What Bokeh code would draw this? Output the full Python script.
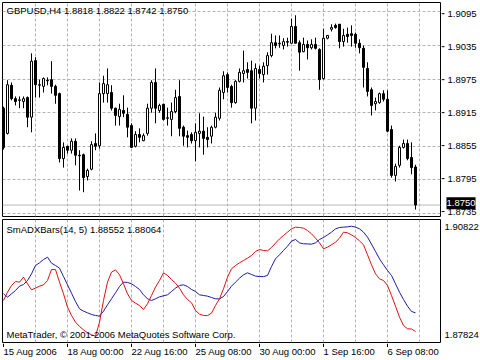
from bokeh.plotting import figure
from bokeh.models import Range1d, FixedTicker, Label, Span, ColumnDataSource
from bokeh.layouts import column, row
from bokeh.embed import file_html
from bokeh.resources import INLINE
from bokeh.core.properties import value

# ---------------- data ----------------
chart_title = "GBPUSD,H4 1.8818 1.8822 1.8742 1.8750"
opens = [1.8923, 1.8878, 1.8964, 1.8940, 1.8937, 1.8935, 1.8942, 1.8907, 1.9008, 1.8964,
         1.8962, 1.8973, 1.8974, 1.8962, 1.8949, 1.8833, 1.8855, 1.8848, 1.8864, 1.8839,
         1.8840, 1.8801, 1.8814, 1.8860, 1.8856, 1.8949, 1.8949, 1.8951, 1.8923, 1.8908,
         1.8919, 1.8912, 1.8892, 1.8855, 1.8876, 1.8865, 1.8878, 1.8923, 1.8969, 1.8919,
         1.8930, 1.8905, 1.8903, 1.8917, 1.8944, 1.8889, 1.8874, 1.8876, 1.8865, 1.8878,
         1.8882, 1.8871, 1.8873, 1.8889, 1.8905, 1.8951, 1.8983, 1.8962, 1.8933, 1.8971,
         1.8985, 1.8992, 1.8990, 1.8923, 1.8992, 1.8983, 1.8999, 1.9017, 1.9040, 1.9039,
         1.9035, 1.9042, 1.9039, 1.9069, 1.9040, 1.9024, 1.9037, 1.9031, 1.9037, 1.9028,
         1.8976, 1.9048, 1.9064, 1.9071, 1.9073, 1.9042, 1.9055, 1.9056, 1.9055, 1.9039,
         1.9030, 1.8994, 1.8956, 1.8931, 1.8933, 1.8949, 1.8939, 1.8885, 1.8803, 1.8821,
         1.8853, 1.8860, 1.8835, 1.8818]
highs = [1.8926, 1.8973, 1.8969, 1.8944, 1.8944, 1.8944, 1.8944, 1.9021, 1.9014, 1.8974,
         1.8978, 1.8978, 1.9007, 1.8965, 1.8951, 1.8862, 1.8856, 1.8869, 1.8869, 1.8848,
         1.8842, 1.8815, 1.8864, 1.8878, 1.8969, 1.8981, 1.8994, 1.8964, 1.8924, 1.8931,
         1.8946, 1.8924, 1.8896, 1.8882, 1.8887, 1.8878, 1.8931, 1.8973, 1.8994, 1.8931,
         1.8931, 1.8924, 1.8933, 1.8956, 1.8973, 1.8892, 1.8883, 1.8880, 1.8896, 1.8914,
         1.8908, 1.8889, 1.8892, 1.8915, 1.8960, 1.8989, 1.8987, 1.8965, 1.8973, 1.8994,
         1.9026, 1.9005, 1.9008, 1.9003, 1.8999, 1.9005, 1.9023, 1.9056, 1.9053, 1.9053,
         1.9048, 1.9049, 1.9083, 1.9089, 1.9044, 1.9049, 1.9044, 1.9046, 1.9049, 1.9030,
         1.9065, 1.9053, 1.9073, 1.9074, 1.9073, 1.9065, 1.9067, 1.9071, 1.9058, 1.9046,
         1.9035, 1.9005, 1.8960, 1.8942, 1.8951, 1.8955, 1.8955, 1.8892, 1.8824, 1.8856,
         1.8867, 1.8867, 1.8862, 1.8822]
lows = [1.8849, 1.8876, 1.8937, 1.8928, 1.8923, 1.8923, 1.8889, 1.8880, 1.8942, 1.8942,
        1.8951, 1.8964, 1.8949, 1.8931, 1.8826, 1.8817, 1.8842, 1.8842, 1.8821, 1.8776,
        1.8773, 1.8794, 1.8812, 1.8848, 1.8851, 1.8933, 1.8933, 1.8919, 1.8892, 1.8892,
        1.8907, 1.8871, 1.8853, 1.8853, 1.8862, 1.8864, 1.8874, 1.8915, 1.8896, 1.8915,
        1.8901, 1.8892, 1.8873, 1.8914, 1.8873, 1.8856, 1.8853, 1.8860, 1.8828, 1.8853,
        1.8840, 1.8853, 1.8860, 1.8887, 1.8901, 1.8939, 1.8951, 1.8924, 1.8931, 1.8969,
        1.8969, 1.8976, 1.8896, 1.8901, 1.8976, 1.8969, 1.8983, 1.9014, 1.9030, 1.9031,
        1.9028, 1.9033, 1.9039, 1.9039, 1.8990, 1.9023, 1.9010, 1.9028, 1.9028, 1.8956,
        1.8974, 1.9046, 1.9060, 1.9065, 1.9030, 1.9033, 1.9040, 1.9033, 1.9031, 1.9021,
        1.8960, 1.8944, 1.8910, 1.8919, 1.8931, 1.8935, 1.8880, 1.8799, 1.8792, 1.8817,
        1.8851, 1.8830, 1.8805, 1.8742]
closes = [1.8853, 1.8965, 1.8940, 1.8935, 1.8938, 1.8940, 1.8907, 1.9007, 1.8965, 1.8965,
          1.8976, 1.8972, 1.8962, 1.8946, 1.8833, 1.8853, 1.8848, 1.8864, 1.8839, 1.8838,
          1.8799, 1.8812, 1.8858, 1.8855, 1.8949, 1.8967, 1.8965, 1.8923, 1.8910, 1.8921,
          1.8914, 1.8889, 1.8853, 1.8876, 1.8871, 1.8874, 1.8923, 1.8969, 1.8923, 1.8928,
          1.8903, 1.8906, 1.8917, 1.8942, 1.8887, 1.8873, 1.8871, 1.8865, 1.8880, 1.8882,
          1.8869, 1.8867, 1.8889, 1.8907, 1.8955, 1.8981, 1.8960, 1.8933, 1.8971, 1.8987,
          1.8990, 1.8987, 1.8923, 1.8994, 1.8985, 1.8998, 1.9017, 1.9040, 1.9035, 1.9038,
          1.9042, 1.9041, 1.9069, 1.9039, 1.9023, 1.9037, 1.9031, 1.9037, 1.9030, 1.8974,
          1.9048, 1.9053, 1.9067, 1.9067, 1.9042, 1.9053, 1.9051, 1.9053, 1.9039, 1.9031,
          1.8996, 1.8953, 1.8928, 1.8935, 1.8949, 1.8939, 1.8882, 1.8803, 1.8819, 1.8853,
          1.8860, 1.8833, 1.8817, 1.8750]

ind_title = "SmADXBars(14, 5) 1.88552 1.88064"
adx_blue = [1.88979, 1.88888, 1.88979, 1.89070, 1.89188, 1.89233, 1.89342, 1.89524, 1.89751, 1.89824,
            1.89915, 1.89978, 1.89815, 1.89751, 1.89679, 1.89451, 1.89224, 1.88997, 1.88770, 1.88570,
            1.88507, 1.88461, 1.88416, 1.88389, 1.88370, 1.88507, 1.88679, 1.88843, 1.89006, 1.89179,
            1.89297, 1.89290, 1.89252, 1.89179, 1.89097, 1.88952, 1.88843, 1.88797, 1.88843, 1.88897,
            1.88925, 1.88952, 1.89043, 1.89134, 1.89206, 1.89224, 1.89179, 1.89097, 1.89043, 1.88952,
            1.88934, 1.88915, 1.88879, 1.88843, 1.88840, 1.88906, 1.89043, 1.89188, 1.89297, 1.89406,
            1.89497, 1.89551, 1.89506, 1.89461, 1.89451, 1.89448, 1.89479, 1.89724, 1.89933, 1.90042,
            1.90160, 1.90278, 1.90415, 1.90460, 1.90369, 1.90342, 1.90340, 1.90333, 1.90369, 1.90460,
            1.90514, 1.90587, 1.90660, 1.90751, 1.90787, 1.90796, 1.90805, 1.90822, 1.90796, 1.90751,
            1.90660, 1.90524, 1.90333, 1.90133, 1.89933, 1.89769, 1.89615, 1.89479, 1.89252, 1.89024,
            1.88825, 1.88643, 1.88498, 1.88461]
adx_red = [1.88797, 1.89024, 1.89206, 1.89315, 1.89297, 1.89433, 1.89252, 1.89088, 1.89134, 1.89188,
           1.89224, 1.89342, 1.89642, 1.89640, 1.89297, 1.88979, 1.88616, 1.88389, 1.88207, 1.88089,
           1.87998, 1.87916, 1.87862, 1.87825, 1.88207, 1.88797, 1.89297, 1.89570, 1.89633, 1.89497,
           1.89252, 1.88979, 1.88797, 1.88725, 1.88661, 1.88552, 1.88707, 1.88934, 1.89161, 1.89342,
           1.89551, 1.89479, 1.89370, 1.89270, 1.89134, 1.88952, 1.88825, 1.88734, 1.88525, 1.88425,
           1.88389, 1.88385, 1.88452, 1.88661, 1.88843, 1.89115, 1.89433, 1.89660, 1.89751, 1.89824,
           1.89888, 1.89951, 1.90024, 1.90133, 1.90187, 1.90160, 1.90151, 1.90242, 1.90360, 1.90478,
           1.90569, 1.90660, 1.90751, 1.90796, 1.90787, 1.90769, 1.90705, 1.90614, 1.90496, 1.90369,
           1.90206, 1.90251, 1.90315, 1.90387, 1.90496, 1.90660, 1.90642, 1.90587, 1.90514, 1.90424,
           1.90315, 1.90042, 1.89769, 1.89524, 1.89388, 1.89342, 1.89206, 1.88934, 1.88643, 1.88343,
           1.88116, 1.88025, 1.88020, 1.87952]

price_ticks = [1.8735, 1.8795, 1.8855, 1.8915, 1.8975, 1.9035, 1.9095]
price_labels = ["1.8735", "1.8795", "1.8855", "1.8915", "1.8975", "1.9035", "1.9095"]
ind_ticks = [1.87824, 1.90822]
ind_labels = ["1.87824", "1.90822"]
date_ticks = [0, 16, 32, 48, 64, 80, 96]
date_labels = ["15 Aug 2006", "18 Aug 00:00", "22 Aug 16:00", "25 Aug 08:00",
               "30 Aug 00:00", "1 Sep 16:00", "6 Sep 08:00"]
copyright_text = "MetaTrader, \u00a9 2001-2006 MetaQuotes Software Corp."

# ---------------- style ----------------
FONT = "Liberation Sans"
FS = "9.5px"
GRID = "#b4b4b4"
DASH = "3 2"
MAIN_H, IND_H, DATE_H = 218, 125, 17
SIDE_W = 39
CHART_W = 480 - SIDE_W

n = len(opens)
idx = list(range(n))
src = ColumnDataSource(dict(
    x=idx, h=highs, l=lows,
    top=[max(o, c) for o, c in zip(opens, closes)],
    bottom=[min(o, c) for o, c in zip(opens, closes)],
    fill=["white" if c >= o else "black" for o, c in zip(opens, closes)],
))

xr = Range1d(-0.25, 109.25)
yr1 = Range1d(1.87296, 1.91118)
yr2 = Range1d(1.87652, 1.91005)
vgrid = list(range(8, 105, 8))


def base_fig(w, h, xrng, yrng, **kw):
    f = figure(width=w, height=h, x_range=xrng, y_range=yrng,
               x_axis_location=None, y_axis_location=None,
               toolbar_location=None, output_backend="svg", **kw)
    f.background_fill_color = "white"
    f.border_fill_color = "white"
    return f


def txt(f, x, y, t, **kw):
    f.text(x=x, y=y, text=t, text_font=value(FONT), text_font_size=FS,
           text_color="black", text_baseline="middle", text_align="left", **kw)


# ---------- main price panel ----------
p = base_fig(CHART_W, MAIN_H, xr, yr1,
             min_border_left=2, min_border_right=1, min_border_top=2, min_border_bottom=2)
p.outline_line_color = "black"
p.ygrid.ticker = FixedTicker(ticks=price_ticks)
p.xgrid.ticker = FixedTicker(ticks=vgrid)
for g in p.grid:
    g.grid_line_color = GRID
    g.grid_line_dash = DASH
    g.grid_line_width = 1

p.add_layout(Span(location=closes[-1], dimension="width", line_color="#b8b8b8",
                  line_width=1, level="underlay"))
p.segment("x", "h", "x", "l", source=src, line_color="black", line_width=1)
p.vbar(x="x", width=0.5, top="top", bottom="bottom", fill_color="fill",
       line_color="black", line_width=1, source=src)
p.add_layout(Label(x=xr.start, y=yr1.end, x_offset=4, y_offset=-8, text=chart_title,
                   text_align="left", text_baseline="middle", text_font=FONT,
                   text_font_size=FS, text_color="black"))

# price scale (right side)
pp1 = (yr1.end - yr1.start) / (MAIN_H - 4)
s1 = base_fig(SIDE_W, MAIN_H, Range1d(0, SIDE_W),
              Range1d(yr1.start - 2 * pp1, yr1.end + 2 * pp1), min_border=0)
s1.outline_line_color = None
s1.grid.visible = False
s1.segment(x0=[0] * len(price_ticks), y0=price_ticks, x1=[3] * len(price_ticks),
           y1=price_ticks, line_color="black", line_width=1)
txt(s1, [6] * len(price_ticks), price_ticks, price_labels)
s1.add_layout(Label(x=5, y=closes[-1], text="%.4f" % closes[-1],
                    text_align="left", text_baseline="middle", text_font=FONT,
                    text_font_size=FS, text_color="white",
                    background_fill_color="black", padding=(0, 3)))

# ---------- indicator panel ----------
p2 = base_fig(CHART_W, IND_H, xr, yr2,
              min_border_left=2, min_border_right=1, min_border_top=1, min_border_bottom=1)
p2.outline_line_color = "black"
p2.ygrid.visible = False
p2.xgrid.ticker = FixedTicker(ticks=vgrid)
p2.xgrid.grid_line_color = GRID
p2.xgrid.grid_line_dash = DASH
p2.line(idx, adx_blue, line_color="#1c1ca8", line_width=1)
p2.line(idx, adx_red, line_color="#e01010", line_width=1)
p2.add_layout(Label(x=xr.start, y=yr2.end, x_offset=4, y_offset=-9.5, text=ind_title,
                    text_align="left", text_baseline="middle", text_font=FONT,
                    text_font_size=FS, text_color="black"))
p2.add_layout(Label(x=xr.start, y=yr2.start, x_offset=4, y_offset=8, text=copyright_text,
                    text_align="left", text_baseline="middle", text_font=FONT,
                    text_font_size=FS, text_color="black"))

pp2 = (yr2.end - yr2.start) / (IND_H - 2)
s2 = base_fig(SIDE_W, IND_H, Range1d(0, SIDE_W),
              Range1d(yr2.start - pp2, yr2.end + pp2), min_border=0)
s2.outline_line_color = None
s2.grid.visible = False
txt(s2, [3] * len(ind_ticks), ind_ticks, ind_labels)

# ---------- time scale ----------
d = base_fig(480, DATE_H, xr, Range1d(DATE_H, 0),
             min_border_left=2, min_border_right=SIDE_W + 1, min_border_top=0, min_border_bottom=0)
d.outline_line_color = None
d.grid.visible = False
d.segment(x0=date_ticks, y0=[0] * len(date_ticks), x1=date_ticks, y1=[3.5] * len(date_ticks),
          line_color="black", line_width=1)
txt(d, date_ticks, [8] * len(date_ticks), date_labels)

layout = column(row(p, s1, spacing=0), row(p2, s2, spacing=0), d, spacing=0)
open("out.html", "w").write(file_html(layout, INLINE))
